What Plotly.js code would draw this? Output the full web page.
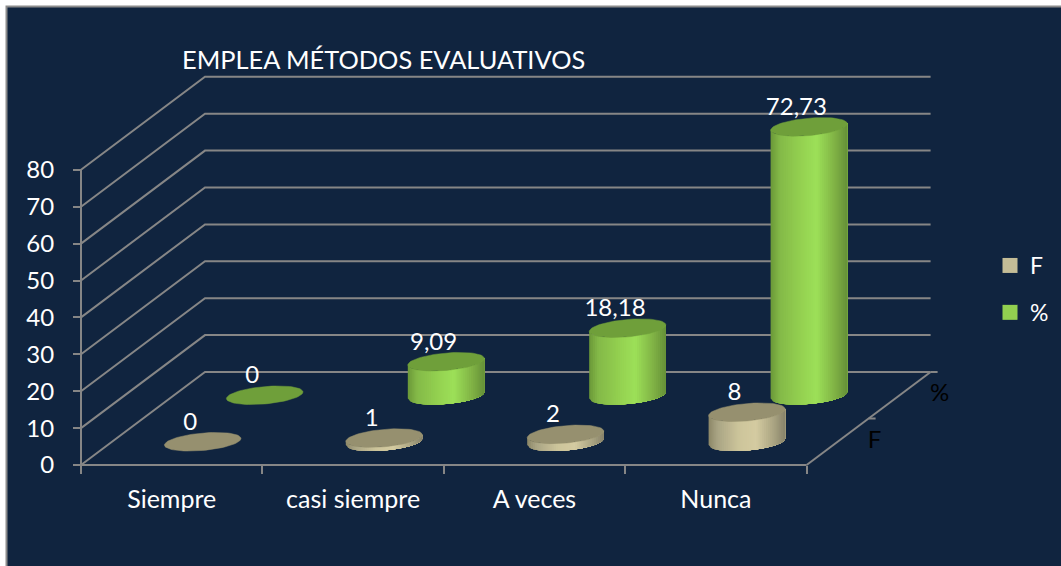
<!DOCTYPE html>
<html>
<head>
<meta charset="utf-8">
<script src="https://cdn.plot.ly/plotly-3.0.1.min.js"></script>
<style>html,body{margin:0;padding:0;background:#fff;overflow:hidden}#chart{width:1061px;height:566px}</style>
</head>
<body>
<div id="chart"></div>
<script>
const chartTitle = "EMPLEA MÉTODOS EVALUATIVOS";
const categories = ["Siempre", "casi siempre", "A veces", "Nunca"];
const seriesNames = ["F", "%"];
const valuesF = [0, 1, 2, 8];
const valuesPct = [0, 9.09, 18.18, 72.73];
const valueTicks = [0, 10, 20, 30, 40, 50, 60, 70, 80];

// Oblique projection (pixels per data unit on the page)
const W = 1061, H = 566, X0 = 81, Y0 = 465;
const PX_CAT = 181.4, PX_VAL = 3.69;
const DEPTH_X = 124 / PX_CAT, DEPTH_Y = 93 / PX_VAL;
const GRID = "#868686", BG = "#10243f";
const px = p => p / PX_CAT, py = p => -p / PX_VAL;   // pixel offset -> data offset
const proj = (c, v, d) => [c + d * DEPTH_X, v + d * DEPTH_Y];

const RX = 38.3, TILT = 3.3, RY = 8.7, SLICES = 40;
const shades = {
  F: [[0, "#8c8767"], [0.12, "#aaa585"], [0.4, "#cdc59b"], [0.62, "#d4cba1"], [0.85, "#aaa482"], [1, "#87826a"]],
  P: [[0, "#6a9838"], [0.12, "#84b948"], [0.4, "#94d150"], [0.6, "#9ce058"], [0.85, "#7eb044"], [1, "#659038"]]
};
const capColor = { F: "#96906f", P: "#6f9f3a" };
const legendColor = { F: "#c4bd97", P: "#92d050" };

function hex(c) { return [1, 3, 5].map(i => parseInt(c.substr(i, 2), 16)); }
function shade(stops, f) {
  for (let i = 1; i < stops.length; i++) {
    if (f <= stops[i][0]) {
      const a = stops[i - 1], b = stops[i], k = (f - a[0]) / (b[0] - a[0]);
      const A = hex(a[1]), B = hex(b[1]);
      return "rgb(" + A.map((n, j) => Math.round(n + (B[j] - n) * k)).join(",") + ")";
    }
  }
  return stops[stops.length - 1][1];
}
// lower arc of the tilted ellipse: vertical pixel offset for a horizontal pixel offset
const arc = x => -TILT * (x / RX) + RY * Math.sqrt(Math.max(0, 1 - (x / RX) * (x / RX)));

function seriesTraces(values, depth, key) {
  const traces = [];
  for (let s = 0; s < SLICES; s++) {
    const xs = [], ys = [];
    // each slice runs to the right-hand edge; the next one paints over it, so no seams show
    const STEPS = 24;
    values.forEach((v, i) => {
      if (!(v > 0)) return;
      const base = proj(i + 0.5, 0, depth);
      const a = -RX + 2 * RX * s / SLICES;
      const lower = [], upper = [];
      for (let k = 0; k <= STEPS; k++) {
        const e = a + (RX - a) * k / STEPS;
        lower.push([e, 0]); upper.unshift([e, v]);
      }
      lower.concat(upper).forEach(p => {
        xs.push(base[0] + px(p[0])); ys.push(base[1] + p[1] + py(arc(p[0])));
      });
      xs.push(null); ys.push(null);
    });
    const col = shade(shades[key], (s + 0.5) / SLICES);
    traces.push({ x: xs, y: ys, mode: "none", fill: "toself", fillcolor: col,
      showlegend: false, hoverinfo: "skip" });
  }
  const cx = [], cy = [];
  values.forEach((v, i) => {
    const c = proj(i + 0.5, v, depth);
    for (let k = 0; k <= 72; k++) {
      const t = k / 72 * 2 * Math.PI;
      cx.push(c[0] + px(RX * Math.cos(t)));
      cy.push(c[1] + py(-TILT * Math.cos(t) + RY * Math.sin(t)));
    }
    cx.push(null); cy.push(null);
  });
  traces.push({ x: cx, y: cy, mode: "lines", fill: "toself", fillcolor: capColor[key],
    line: { color: capColor[key], width: 0.5 }, showlegend: false, hoverinfo: "skip" });
  return traces;
}

function labelTrace(values, depth) {
  return {
    x: values.map((v, i) => proj(i + 0.5, v, depth)[0] + px(-12.5)),
    y: values.map((v, i) => proj(i + 0.5, v, depth)[1] + py(-18)),
    text: values.map(v => String(v).replace(".", ",")),
    mode: "text", textposition: "middle center",
    textfont: { family: "Lato, Carlito, sans-serif", size: 24, color: "#ffffff" },
    cliponaxis: false, showlegend: false, hoverinfo: "skip"
  };
}

// walls and floor
const gx = [], gy = [];
valueTicks.forEach(v => {
  const a = proj(0, v, 0), b = proj(0, v, 1), c = proj(categories.length, v, 1);
  gx.push(a[0], b[0], c[0], null); gy.push(a[1], b[1], c[1], null);
});
const n = categories.length;
[[proj(0, 0, 0), proj(0, 80, 0)], [proj(0, 0, 0), proj(n, 0, 0)], [proj(n, 0, 0), proj(n, 0, 1)]].forEach(s => {
  gx.push(s[0][0], s[1][0], null); gy.push(s[0][1], s[1][1], null);
});
[0.5, 1].forEach(d => {
  const p = proj(n, 0, d);
  gx.push(p[0], p[0] + px(7), null); gy.push(p[1], p[1], null);
});
const gridTrace = { x: gx, y: gy, mode: "lines", line: { color: GRID, width: 2 }, showlegend: false, hoverinfo: "skip" };

const depthLabels = {
  x: [proj(n, 0, 0.25)[0] + px(37), proj(n, 0, 0.75)[0] + px(40)],
  y: [proj(n, 0, 0.25)[1], proj(n, 0, 0.75)[1]],
  text: seriesNames, mode: "text", textposition: "middle center",
  textfont: { family: "Lato, Carlito, sans-serif", size: 24, color: "#000000" },
  showlegend: false, hoverinfo: "skip"
};

const legendTraces = [["F", "F"], ["%", "P"]].map(([name, key]) => ({
  x: [null], y: [null], mode: "markers", name: name, legendgroup: name,
  marker: { symbol: "square", size: 15, color: legendColor[key] }, hoverinfo: "skip"
}));

const data = [gridTrace]
  .concat(seriesTraces(valuesPct, 0.75, "P"))
  .concat(seriesTraces(valuesF, 0.25, "F"))
  .concat([labelTrace(valuesPct, 0.75), labelTrace(valuesF, 0.25), depthLabels])
  .concat(legendTraces);

const tickFont = { family: "Lato, Carlito, sans-serif", size: 24, color: "#ffffff" };
const catFont = { family: "Lato, Carlito, sans-serif", size: 25, color: "#ffffff" };
const layout = {
  width: W, height: H,
  margin: { l: 0, r: 0, t: 0, b: 0, pad: 0 },
  paper_bgcolor: "#ffffff", plot_bgcolor: "rgba(0,0,0,0)",
  title: { text: chartTitle, x: 182 / W, xanchor: "left", xref: "paper", y: 1 - 60 / H, yanchor: "middle", yref: "paper",
    font: { family: "Lato, Carlito, sans-serif", size: 25.4, color: "#ffffff" } },
  xaxis: {
    domain: [0, 1], range: [-X0 / PX_CAT, (W - X0) / PX_CAT],
    anchor: "free", position: (H - Y0) / H,
    tickmode: "array", tickvals: categories.map((c, i) => i + 0.5), ticktext: categories,
    ticks: "", ticklen: 0, tickfont: catFont, ticklabelstandoff: 17,
    minor: { tickmode: "array", tickvals: [0, 1, 2, 3, 4], ticks: "outside", ticklen: 8, tickcolor: GRID, tickwidth: 2, showgrid: false },
    showgrid: false, zeroline: false, showline: false, fixedrange: true
  },
  yaxis: {
    domain: [0, 1], range: [-(H - Y0) / PX_VAL, Y0 / PX_VAL],
    anchor: "free", position: X0 / W,
    tickmode: "array", tickvals: valueTicks, ticks: "outside", ticklen: 8, tickcolor: GRID, tickwidth: 2,
    tickfont: tickFont, ticklabelstandoff: 14,
    showgrid: false, zeroline: false, showline: false, fixedrange: true
  },
  legend: { x: 990 / W, xanchor: "left", y: 1 - 244 / H, yanchor: "top", font: { family: "Lato, Carlito, sans-serif", size: 23, color: "#ffffff" },
    bgcolor: "rgba(0,0,0,0)", tracegroupgap: 14, traceorder: "grouped", itemclick: false, itemdoubleclick: false },
  shapes: [{ type: "rect", xref: "paper", yref: "paper", x0: 6.5 / W, x1: 1.02, y0: -0.02, y1: 1 - 6.5 / H,
    fillcolor: BG, line: { color: "#8c8c8c", width: 2 }, layer: "below" }],
  showlegend: true,
  hovermode: false
};
Plotly.newPlot("chart", data, layout, { displayModeBar: false, responsive: false, staticPlot: true });
</script>
</body>
</html>
